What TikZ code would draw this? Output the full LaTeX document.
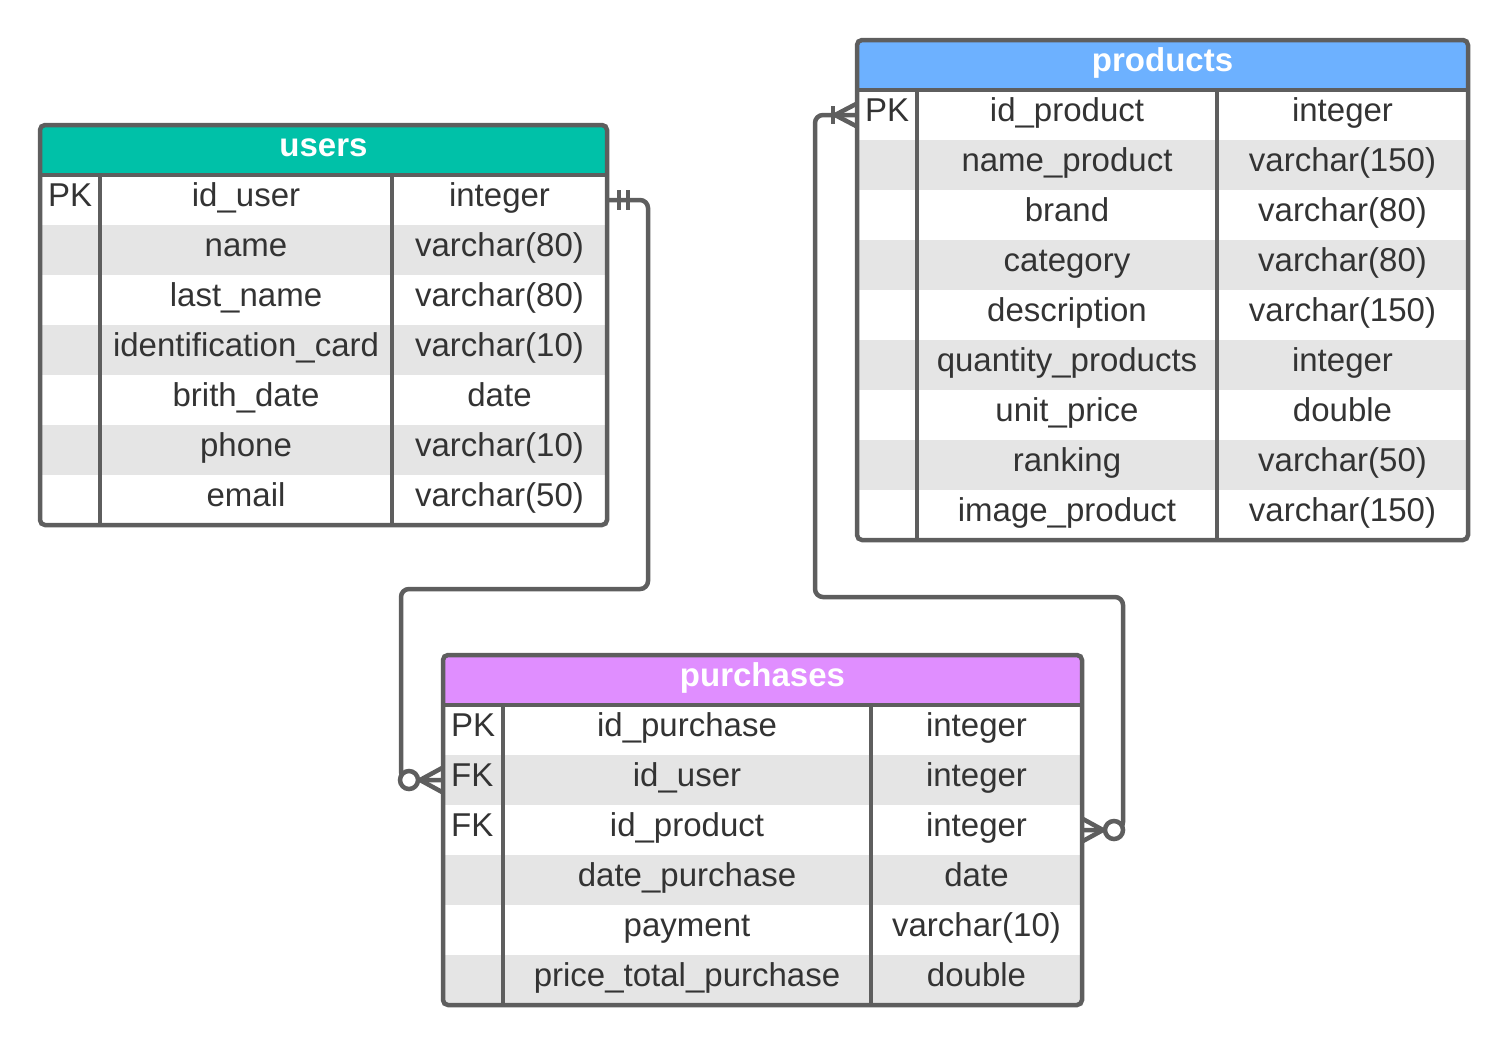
\documentclass[tikz,border=0pt]{standalone}
\usepackage{fontspec}
\setmainfont{Liberation Sans}
\usetikzlibrary{calc}
\definecolor{bordergray}{RGB}{94,94,94}
\definecolor{hdteal}{RGB}{0,193,168}
\definecolor{hdblue}{RGB}{109,177,255}
\definecolor{hdviolet}{RGB}{224,142,255}
\definecolor{stripegray}{RGB}{229,229,229}
\definecolor{txtgray}{RGB}{51,51,51}
\tikzset{
  cell/.style={inner sep=0pt, text=txtgray, font=\fontsize{33}{40}\selectfont},
  titletext/.style={inner sep=0pt, text=white, font=\fontsize{33}{40}\selectfont\bfseries},
  tborder/.style={draw=bordergray, line width=4.5pt},
  stripe/.style={fill=stripegray},
  conn/.style={draw=bordergray, line width=4.5pt, rounded corners=8pt},
  endmark/.style={draw=bordergray, line width=4.5pt},
}
% #1 name, #2 x0, #3 x1, #4 x2, #5 x3, #6 ytop, #7 header colour, #8 title, #9 rows
\newcommand\erdtable[9]{%
  \foreach [count=\c] \x in {#9} {\xdef\erdcount{\c}}%
  \pgfmathsetmacro\erdbot{#6+50+50*\erdcount}%
  \begin{scope}
    \clip[rounded corners=5pt] ({#2},{#6}) rectangle ({#5},{\erdbot});
    \fill[#7] ({#2},{#6}) rectangle ({#5},{#6+50});
    \foreach [count=\i] \k/\n/\t in {#9} {
      \ifodd\i\else
        \fill[stripe] ({#2},{#6+50*\i}) rectangle ({#5},{#6+50*\i+50});
      \fi
    }
  \end{scope}
  \node[titletext, anchor=base] (#1-title) at ({(#2+#5)/2},{#6+31}) {#8};
  \foreach [count=\i] \k/\n/\t in {#9} {
    \node[cell, anchor=base west] (#1-k\i) at ({#2+8},{#6+50*\i+31}) {\k};
    \node[cell, anchor=base] (#1-n\i) at ({(#3+#4)/2},{#6+50*\i+31}) {\n};
    \node[cell, anchor=base] (#1-t\i) at ({(#4+#5)/2},{#6+50*\i+31}) {\t};
    \coordinate (#1-L\i) at ({#2},{#6+50*\i+25});
    \coordinate (#1-R\i) at ({#5},{#6+50*\i+25});
  }
  \draw[tborder] ({#2},{#6+50}) -- ({#5},{#6+50});
  \draw[tborder] ({#3},{#6+50}) -- ({#3},{\erdbot});
  \draw[tborder] ({#4},{#6+50}) -- ({#4},{\erdbot});
  \draw[tborder, rounded corners=5pt] ({#2},{#6}) rectangle ({#5},{\erdbot});
}
\begin{document}
\begin{tikzpicture}[x=1pt, y=-1pt]
\useasboundingbox (0,0) rectangle (1509,1045);

\erdtable{users}{40}{100}{392}{607}{125}{hdteal}{users}{
  {PK}/{id\_user}/{integer},
  {}/{name}/{varchar(80)},
  {}/{last\_name}/{varchar(80)},
  {}/{identification\_card}/{varchar(10)},
  {}/{brith\_date}/{date},
  {}/{phone}/{varchar(10)},
  {}/{email}/{varchar(50)}}

\erdtable{products}{857}{917}{1217}{1468}{40}{hdblue}{products}{
  {PK}/{id\_product}/{integer},
  {}/{name\_product}/{varchar(150)},
  {}/{brand}/{varchar(80)},
  {}/{category}/{varchar(80)},
  {}/{description}/{varchar(150)},
  {}/{quantity\_products}/{integer},
  {}/{unit\_price}/{double},
  {}/{ranking}/{varchar(50)},
  {}/{image\_product}/{varchar(150)}}

\erdtable{purchases}{443}{503}{871}{1082}{655}{hdviolet}{purchases}{
  {PK}/{id\_purchase}/{integer},
  {FK}/{id\_user}/{integer},
  {FK}/{id\_product}/{integer},
  {}/{date\_purchase}/{date},
  {}/{payment}/{varchar(10)},
  {}/{price\_total\_purchase}/{double}}

% routing points
\coordinate (u1) at (648,589);
\coordinate (u2) at (401,589);
\coordinate (p1) at (815,597);
\coordinate (p2) at (1123,597);

% users.id_user (one and only one) -> purchases.id_user (zero or many)
\draw[conn] (users-R1) -| (u1) -- (u2) |- (purchases-L2);
\draw[endmark] ($(users-R1)+(12,-10)$) -- ($(users-R1)+(12,10)$);
\draw[endmark] ($(users-R1)+(21,-10)$) -- ($(users-R1)+(21,10)$);
\draw[endmark] ($(purchases-L2)+(-23,0)$) -- ($(purchases-L2)+(-1,-12)$);
\draw[endmark] ($(purchases-L2)+(-23,0)$) -- ($(purchases-L2)+(-1,0)$);
\draw[endmark] ($(purchases-L2)+(-23,0)$) -- ($(purchases-L2)+(-1,12)$);
\draw[endmark, fill=white] ($(purchases-L2)+(-34,0)$) circle[radius=9];

% products.id_product (one or many) -> purchases.id_product (zero or many)
\draw[conn] (products-L1) -| (p1) -- (p2) |- (purchases-R3);
\draw[endmark] ($(products-L1)+(-24,-9)$) -- ($(products-L1)+(-24,9)$);
\draw[endmark] ($(products-L1)+(-22,0)$) -- ($(products-L1)+(-1,-11)$);
\draw[endmark] ($(products-L1)+(-22,0)$) -- ($(products-L1)+(-1,0)$);
\draw[endmark] ($(products-L1)+(-22,0)$) -- ($(products-L1)+(-1,11)$);
\draw[endmark] ($(purchases-R3)+(21,0)$) -- ($(purchases-R3)+(1,-11)$);
\draw[endmark] ($(purchases-R3)+(21,0)$) -- ($(purchases-R3)+(1,0)$);
\draw[endmark] ($(purchases-R3)+(21,0)$) -- ($(purchases-R3)+(1,11)$);
\draw[endmark, fill=white] ($(purchases-R3)+(32,0)$) circle[radius=9];
\end{tikzpicture}
\end{document}
